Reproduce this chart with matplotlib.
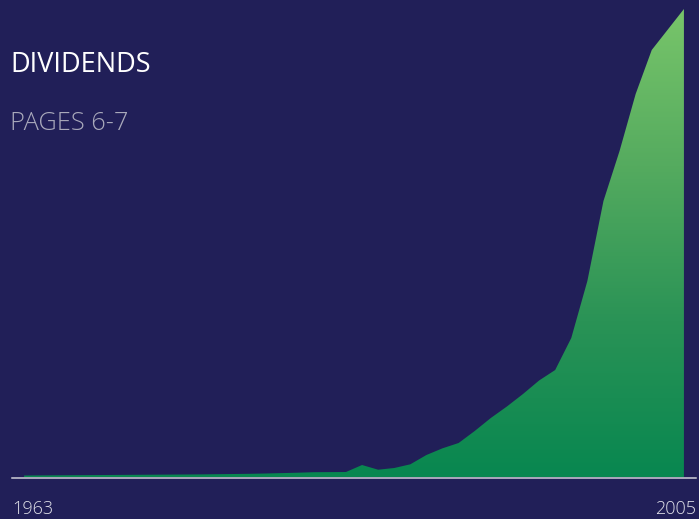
import numpy as np
import matplotlib
matplotlib.use("Agg")
import matplotlib.pyplot as plt
from matplotlib.colors import LinearSegmentedColormap

# Annual dividends (index units), 1964-2005
years = list(range(1964, 2006))
dividends = [1.5, 1.6, 1.7, 1.8, 1.9, 2.0, 2.1, 2.2, 2.3, 2.4,
             2.5, 2.6, 2.8, 3.0, 3.2, 3.5, 3.9, 4.3, 4.8, 4.9,
             5.0, 12.0, 7.3, 9.0, 12.7, 22.0, 28.7, 34.0, 46.0, 59.0,
             70.5, 83.0, 96.5, 107.0, 139.0, 196.0, 276.0, 326.0, 383.0, 427.0,
             447.5, 468.0]

title = "DIVIDENDS"
subtitle = "PAGES 6-7"
start_label = "1963"
end_label = "2005"

bg = "#211f58"
W, H = 699, 519
fig = plt.figure(figsize=(W / 100, H / 100), dpi=100, facecolor=bg)

# axes spans from x=12..696 px, y from 478 px (from top) to the top edge
ax = fig.add_axes([12 / W, 41 / H, 684 / W, 478 / H])
ax.set_facecolor(bg)
ax.set_xlim(1963.25, 2005.75)
ax.set_ylim(-1, 477)

x = np.array(years, dtype=float)
y = np.array(dividends, dtype=float)

poly = ax.fill_between(x, 0, y, color="none", lw=0)
path = poly.get_paths()[0]

cmap = LinearSegmentedColormap.from_list(
    "grn", ["#088750", "#2a9356", "#55ab5f", "#78c56a"])
grad = np.linspace(0, 1, 512).reshape(-1, 1)
im = ax.imshow(grad, cmap=cmap, aspect="auto", origin="lower",
               extent=[x[0], x[-1], 0, y.max()], interpolation="bilinear",
               zorder=2)
im.set_clip_path(path, transform=ax.transData)

for s in ["top", "right", "left"]:
    ax.spines[s].set_visible(False)
ax.spines["bottom"].set_color("#cfcfd8")
ax.spines["bottom"].set_linewidth(1.1)
ax.spines["bottom"].set_zorder(3)
ax.set_xticks([])
ax.set_yticks([])

fam = ["Open Sans", "DejaVu Sans"]
fig.text(10 / W, 1 - 72 / H, title, color="white", fontsize=19.5,
         family=fam, ha="left", va="baseline")
fig.text(10 / W, 1 - 130.5 / H, subtitle, color="#a9a9bb", fontsize=18.3,
         family=fam, weight="light", ha="left", va="baseline")
fig.text(12 / W, 1 - 514 / H, start_label, color="#e2e2ea", fontsize=13,
         family=fam, weight="light", ha="left", va="baseline")
fig.text(696 / W, 1 - 514 / H, end_label, color="#e2e2ea", fontsize=13,
         family=fam, weight="light", ha="right", va="baseline")

fig.savefig("out.png", dpi=100, facecolor=bg)
